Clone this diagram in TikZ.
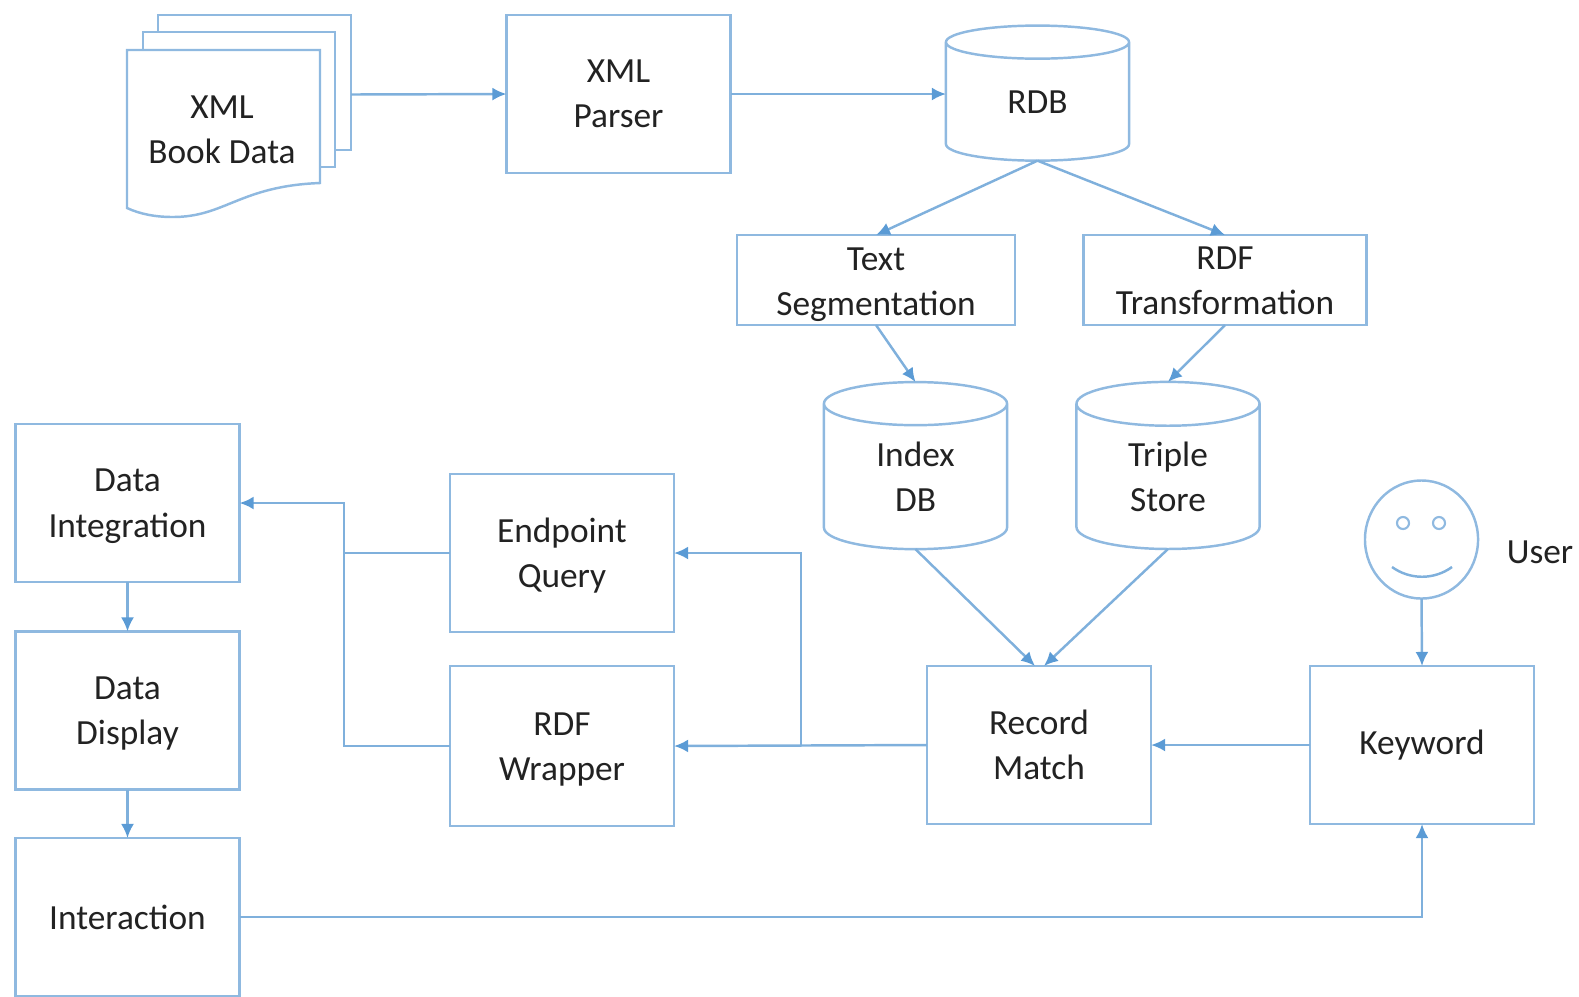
\documentclass[tikz,border=0pt]{standalone}
\usepackage{fontspec}
\setmainfont{Carlito}
\usepackage{tikz}
\usetikzlibrary{shapes.geometric,arrows.meta}
\definecolor{boxline}{HTML}{8FB9E0}
\definecolor{linkline}{HTML}{7FB0DC}
\definecolor{tiplink}{HTML}{5B9BD5}
\definecolor{inktext}{HTML}{222222}
\tikzset{
  every node/.append style={text=inktext,align=center,font=\fontsize{10.05}{12.8}\selectfont},
  stepbox/.style={draw=boxline,line width=0.7pt,minimum width=2.24cm,minimum height=1.58cm,inner sep=0pt,outer sep=0pt},
  widebox/.style={stepbox,minimum width=2.78cm,minimum height=0.90cm},
  lowtext/.style={text height=0.74cm},
  store/.style={draw=boxline,line width=0.7pt,cylinder,shape border rotate=90,shape aspect=0.55,minimum width=1.83cm,minimum height=1.67cm,inner sep=0pt,outer sep=0pt},
  sheet/.style={draw=boxline,line width=0.7pt,fill=white},
  link/.style={draw=linkline,line width=0.7pt,-{Latex[length=1.4mm,width=1.3mm,color=tiplink]}},
  plainlink/.style={draw=linkline,line width=0.7pt},
}
\begin{document}
\begin{tikzpicture}[x=0.01cm,y=0.01cm]
\useasboundingbox (0,0) rectangle (1579,-996);
% book data pages
\draw [sheet] (158,-15) rectangle (351,-150);
\draw [sheet] (143,-32) rectangle (335,-167);
\draw [sheet] (127,-50) -- (320,-50) -- (320,-183) .. controls (240,-186) and (225,-217) .. (173,-217) .. controls (155,-217) and (140,-214) .. (127,-208) -- cycle;
\node (bookdata) at (222,-130) {XML\\Book Data};
\coordinate (bookout) at (351,-94.5);
% upper row
\node [stepbox] (parser) at (618.5,-94) {XML\\Parser};
\node [store,minimum height=1.35cm] (rdb) at (1037.5,-102) {RDB};
\node [widebox,lowtext,text height=0.77cm] (textseg) at (876,-280) {Text\\Segmentation};
\node [widebox,lowtext,text height=0.69cm,minimum width=2.83cm] (rdftrans) at (1225,-280) {RDF\\Transformation};
\node [store] (indexdb) at (915.5,-477) {Index\\DB};
\node [store] (triple) at (1168,-477) {Triple\\Store};
% left column
\node [stepbox,lowtext] (integration) at (127.5,-503) {Data\\Integration};
\node [stepbox,lowtext] (display) at (127.5,-710.5) {Data\\Display};
\node [stepbox] (interaction) at (127.5,-917) {Interaction};
% middle row
\node [stepbox,lowtext] (endpoint) at (562,-553) {Endpoint\\Query};
\node [stepbox,lowtext,minimum height=1.60cm] (wrapper) at (562,-746) {RDF\\Wrapper};
\node [stepbox] (record) at (1039,-745) {Record\\Match};
\node [stepbox] (keyword) at (1422,-745) {Keyword};
% user
\node [draw=boxline,line width=0.7pt,ellipse,minimum width=1.13cm,minimum height=1.18cm,inner sep=0pt,outer sep=0pt] (face) at (1421.5,-539.5) {};
\node [draw=boxline,circle,line width=0.6pt,minimum size=0.12cm,inner sep=0pt] (lefteye) at (1403,-523) {};
\node [draw=boxline,circle,line width=0.6pt,minimum size=0.12cm,inner sep=0pt] (righteye) at (1439,-523) {};
\coordinate (mouthl) at (1392,-567);
\coordinate (mouthr) at (1452,-567);
\draw [plainlink] (mouthl) .. controls (1410,-580) and (1434,-580) .. (mouthr);
\node (user) at (1540,-552) {User};
% connectors
\coordinate (splitq) at (801,-745);
\coordinate (mergeq) at (344,-503);
\draw [link] (bookout) -- (parser.west);
\draw [link] (parser.east) -- (parser.east -| rdb.west);
\draw [link] (rdb.bottom) -- (textseg.north);
\draw [link] (rdb.bottom) -- (rdftrans.north);
\draw [link] (textseg.south) -- (indexdb.top);
\draw [link] (rdftrans.south) -- (triple.top);
\draw [link] (indexdb.bottom) -- ([xshift=-0.04cm]record.north);
\draw [link] (triple.bottom) -- ([xshift=0.05cm]record.north);
\draw [link] (keyword.west) -- (record.east);
\draw [link] (face.south) -- (keyword.north);
\draw [link] (record.west) -- (wrapper.east);
\draw [link] (splitq) |- (endpoint.east);
\draw [link] (wrapper.west) -| (mergeq) -- (integration.east);
\draw [plainlink] (endpoint.west) -- (endpoint.west -| mergeq);
\draw [link] (integration.south) -- (display.north);
\draw [link] (display.south) -- (interaction.north);
\draw [link] (interaction.east) -| (keyword.south);
\end{tikzpicture}
\end{document}
